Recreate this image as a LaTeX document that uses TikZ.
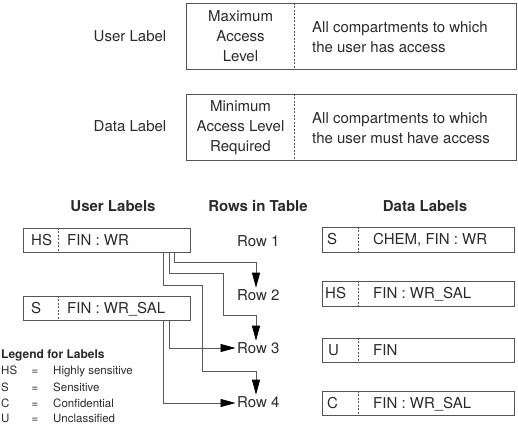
\documentclass[tikz,border=0pt]{standalone}
\usepackage{fontspec}
\setmainfont{TeX Gyre Heros}
\usetikzlibrary{arrows.meta,calc}
\definecolor{txt}{HTML}{2A2A2A}
\definecolor{bord}{HTML}{555555}
\definecolor{wire}{HTML}{5A5A5A}
\tikzset{
  bigfont/.style={font=\fontsize{15}{20}\selectfont, text=txt},
  legfont/.style={font=\fontsize{11.5}{14}\selectfont, text=txt},
  frame/.style={draw=bord, line width=0.8pt, inner sep=0pt, minimum height=#1},
  divider/.style={draw=bord, line width=0.6pt, dash pattern=on 2pt off 1.5pt},
  conn/.style={draw=wire, line width=0.8pt},
  arr/.style={conn, -{Triangle[length=15pt,width=8pt,color=black]}},
  txtb/.style={bigfont, inner sep=0pt, anchor=base west},
  legb/.style={legfont, inner sep=0pt, anchor=base west},
  rowlbl/.style={bigfont, inner sep=1.5pt, anchor=west},
}
\begin{document}
\begin{tikzpicture}[x=1pt,y=1pt]
\useasboundingbox (0,0) rectangle (518,-425);

% ---- top definition boxes ----
\node[bigfont, anchor=center] (ulabel) at (130,-36) {User Label};
\node[frame=66pt, minimum width=330pt] (ubox) at (351,-36) {};
\draw[divider] ($(ubox.north west)+(109,0)$) -- ($(ubox.south west)+(109,0)$);
\node[bigfont, align=center, inner sep=0pt] (uleft) at (240.5,-36) {Maximum\\Access\\Level};
\node[bigfont, align=left, inner sep=0pt, anchor=west] (uright) at (312,-37) {All compartments to which\\the user has access};

\node[bigfont, anchor=center] (dlabel) at (130,-126) {Data Label};
\node[frame=66pt, minimum width=330pt] (dbox) at (351,-127) {};
\draw[divider] ($(dbox.north west)+(109,0)$) -- ($(dbox.south west)+(109,0)$);
\node[bigfont, align=center, inner sep=0pt] (dleft) at (240.5,-128) {Minimum\\Access Level\\Required};
\node[bigfont, align=left, inner sep=0pt, anchor=west] (dright) at (312,-128) {All compartments to which\\the user must have access};

% ---- headings ----
\node[bigfont, font=\fontsize{15}{20}\selectfont\bfseries] (h1) at (113,-206) {User Labels};
\node[bigfont, font=\fontsize{15}{20}\selectfont\bfseries] (h2) at (258,-206) {Rows in Table};
\node[bigfont, font=\fontsize{15}{20}\selectfont\bfseries] (h3) at (425,-206) {Data Labels};

% ---- user label boxes ----
\node[frame=24pt, minimum width=167pt] (hs) at (106.5,-240) {};
\draw[divider] ($(hs.north west)+(36,0)$) -- ($(hs.south west)+(36,0)$);
\node[txtb] (hsa) at (31,-245.4) {HS};
\node[txtb] (hsb) at (67,-245.4) {FIN : WR};

\node[frame=24pt, minimum width=167pt] (su) at (106.5,-308) {};
\draw[divider] ($(su.north west)+(36,0)$) -- ($(su.south west)+(36,0)$);
\node[txtb] (sua) at (31,-313.4) {S};
\node[txtb] (sub) at (67,-313.4) {FIN : WR\_SAL};

% ---- rows ----
\node[rowlbl] (row1) at (235.5,-241) {Row 1};
\node[rowlbl] (row2) at (235.5,-295) {Row 2};
\node[rowlbl] (row3) at (235.5,-348) {Row 3};
\node[rowlbl] (row4) at (235.5,-402) {Row 4};

% ---- data label boxes ----
\node[frame=25pt, minimum width=192pt] (d1) at (418,-239.5) {};
\draw[divider] ($(d1.north west)+(37,0)$) -- ($(d1.south west)+(37,0)$);
\node[txtb] (d1a) at (327,-244.9) {S};
\node[txtb] (d1b) at (373,-244.9) {CHEM, FIN : WR};

\node[frame=25pt, minimum width=192pt] (d2) at (418,-293.5) {};
\draw[divider] ($(d2.north west)+(37,0)$) -- ($(d2.south west)+(37,0)$);
\node[txtb] (d2a) at (325,-298.9) {HS};
\node[txtb] (d2b) at (373,-298.9) {FIN : WR\_SAL};

\node[frame=24pt, minimum width=192pt] (d3) at (418,-350) {};
\draw[divider] ($(d3.north west)+(37,0)$) -- ($(d3.south west)+(37,0)$);
\node[txtb] (d3a) at (328,-355.4) {U};
\node[txtb] (d3b) at (373,-355.4) {FIN};

\node[frame=24pt, minimum width=192pt] (d4) at (418,-403) {};
\draw[divider] ($(d4.north west)+(37,0)$) -- ($(d4.south west)+(37,0)$);
\node[txtb] (d4a) at (327,-408.4) {C};
\node[txtb] (d4b) at (373,-408.4) {FIN : WR\_SAL};

% ---- connectors ----
\coordinate (a1) at (174,-262); \coordinate (a2) at (256,-262);
\draw[arr] (hs.south -| a1) -- (a1) -- (a2) -- (a2 |- row2.north);

\coordinate (b1) at (169,-273); \coordinate (b2) at (223,-273);
\coordinate (b3) at (223,-315); \coordinate (b4) at (256,-315);
\draw[arr] (hs.south -| b1) -- (b1) -- (b2) -- (b3) -- (b4) -- (b4 |- row3.north);

\coordinate (c1) at (163,-285); \coordinate (c2) at (202,-285);
\coordinate (c3) at (202,-371); \coordinate (c4) at (256,-371);
\draw[arr] (hs.south -| c1) -- (c1) -- (c2) -- (c3) -- (c4) -- (c4 |- row4.north);

\coordinate (e1) at (169,-348);
\draw[arr] (su.south -| e1) -- (e1) -- (row3.west);
\coordinate (f1) at (163,-403);
\draw[arr] (su.south -| f1) -- (f1) -- (f1 -| row4.west);

% ---- legend ----
\node[legb, font=\fontsize{12}{14}\selectfont\bfseries] (lt) at (1,-358.5) {Legend for Labels};
\node[legb] (l1a) at (1,-374.5) {HS};
\node[legfont, inner sep=0pt, anchor=base] (l1b) at (35,-374.5) {=};
\node[legb] (l1c) at (53,-374.5) {Highly sensitive};
\node[legb] (l2a) at (1,-391) {S};
\node[legfont, inner sep=0pt, anchor=base] (l2b) at (35,-391) {=};
\node[legb] (l2c) at (53,-391) {Sensitive};
\node[legb] (l3a) at (1,-407) {C};
\node[legfont, inner sep=0pt, anchor=base] (l3b) at (35,-407) {=};
\node[legb] (l3c) at (53,-407) {Confidential};
\node[legb] (l4a) at (1,-422.5) {U};
\node[legfont, inner sep=0pt, anchor=base] (l4b) at (35,-422.5) {=};
\node[legb] (l4c) at (53,-422.5) {Unclassified};
\end{tikzpicture}
\end{document}
